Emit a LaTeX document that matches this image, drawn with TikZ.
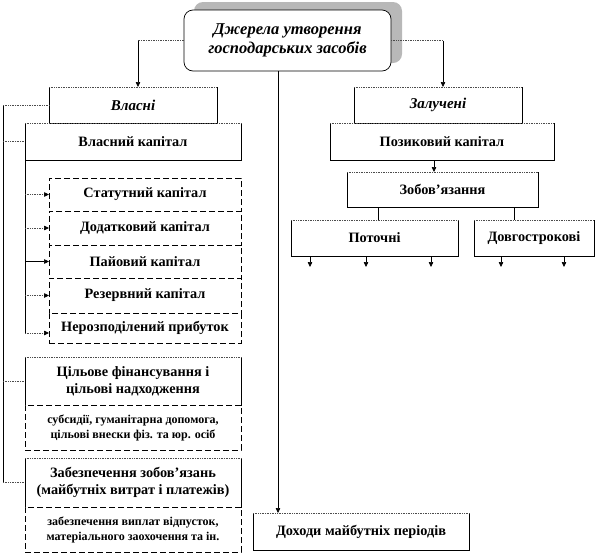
\documentclass[tikz,border=0pt]{standalone}
\usepackage{fontspec}
\setmainfont{Liberation Serif}
\usetikzlibrary{arrows.meta}
\begin{document}
\begin{tikzpicture}[x=1pt,y=-1pt,
  every node/.style={inner sep=0pt, outer sep=0pt},
  boxa/.style={anchor=north west, fill=white, align=center, font=\fontsize{14.3}{17}\selectfont\bfseries},
  boxi/.style={boxa, font=\fontsize{15}{17}\selectfont\bfseries\itshape},
  boxd/.style={anchor=north west, fill=white, draw=black, dash pattern=on 6pt off 3pt, line width=0.6pt, align=center, font=\fontsize{14.3}{17}\selectfont\bfseries},
  boxs/.style={boxd, font=\fontsize{12}{15}\selectfont\bfseries},
  edge/.style={draw=black, line width=0.7pt},
  topedge/.style={draw=black!70, densely dotted, line width=0.7pt},
  dotline/.style={draw=black!70, densely dotted, line width=0.7pt},
  solid line/.style={draw=black, line width=0.6pt},
  arr/.style={draw=black, line width=0.6pt, -{Triangle[length=5pt,width=4.5pt]}},
  darr/.style={draw=black!70, densely dotted, line width=0.7pt, -{Triangle[length=5pt,width=4.5pt,color=black]}},
  shadowbox/.style={fill=black!28, rounded corners=9pt},
  topbox/.style={anchor=north west, fill=white, draw=black, line width=0.7pt, rounded corners=9pt, align=center, font=\fontsize{16.5}{19.5}\selectfont\bfseries\itshape}
]
\useasboundingbox (0,0) rectangle (597,555);

% top node with shadow
\fill[shadowbox] (194,2) rectangle (402,63);
\node[topbox, minimum width=207pt, minimum height=61pt] (top) at (184,10) {Джерела утворення\\господарських засобів};

% boxes
\node[boxi, minimum width=168pt, minimum height=36pt] (vl) at (49,87) {Власні};
\node[boxi, minimum width=168pt, minimum height=36pt] (zl) at (354,87) {Залучені};
\node[boxa, minimum width=216pt, minimum height=37pt] (vk) at (25,123) {Власний капітал};
\node[boxa, minimum width=224pt, minimum height=37pt] (pk) at (330,123) {Позиковий капітал};
\node[boxa, minimum width=191pt, minimum height=35pt] (zo) at (347,172) {Зобов’язання};
\node[boxa, minimum width=167pt, minimum height=36pt] (pt) at (291,220) {Поточні};
\node[boxa, minimum width=120pt, minimum height=36pt] (dv) at (474,220) {Довгострокові};
\node[boxa, minimum width=216pt, minimum height=37pt] (dk) at (253,513) {Доходи майбутніх періодів};
\node[boxa, minimum width=216pt, minimum height=48pt] (cf) at (25,357) {Цільове фінансування і\\цільові надходження};
\node[boxa, minimum width=216pt, minimum height=49pt] (zb) at (25,458) {Забезпечення зобов’язань\\(майбутніх витрат і платежів)};

\foreach \n in {vl,zl,vk,pk,zo,pt,dv,dk,cf,zb} {
  \draw[edge] (\n.north west) -- (\n.south west) -- (\n.south east) -- (\n.north east);
  \draw[topedge] (\n.north west) -- (\n.north east);
}

% dashed boxes
\node[boxd, minimum width=192pt, minimum height=33pt] (r1) at (49,178) {Статутний капітал};
\node[boxd, minimum width=192pt, minimum height=34pt] (r2) at (49,211) {Додатковий капітал};
\node[boxd, minimum width=192pt, minimum height=33pt] (r3) at (49,245) {Пайовий капітал};
\node[boxd, minimum width=192pt, minimum height=35pt] (r4) at (49,278) {Резервний капітал};
\node[boxd, minimum width=192pt, minimum height=30pt] (r5) at (49,313) {Нерозподілений прибуток};
\node[boxs, minimum width=216pt, minimum height=45pt] (cs) at (25,405) {субсидії, гуманітарна допомога,\\цільові внески фіз. та юр. осіб};
\node[boxs, minimum width=216pt, minimum height=45pt] (zs) at (25,507) {забезпечення виплат відпусток,\\матеріального заохочення та ін.};

% coordinates
\coordinate (lc) at (138,0);
\coordinate (rc) at (443,0);
\coordinate (cx) at (278,0);
\coordinate (ox) at (3,0);
\coordinate (ix) at (25,0);
\coordinate (pz) at (434,0);
\coordinate (z1) at (378,0);
\coordinate (z2) at (514,0);
\coordinate (s1) at (310,267);
\coordinate (s2) at (366,267);
\coordinate (s3) at (431,267);
\coordinate (s4) at (501,267);
\coordinate (s5) at (564,267);

% top connectors
\draw[dotline] (top.west) -- (top.west -| lc);
\draw[arr] (top.west -| lc) -- (vl.north -| lc);
\draw[dotline] (top.east) -- (top.east -| rc);
\draw[arr] (top.east -| rc) -- (zl.north -| rc);
\draw[arr] (top.south -| cx) -- (dk.north -| cx);

% left bracket
\draw[solid line] (vl.west -| ox) -- (zb.west -| ox);
\draw[dotline] (vl.west -| ox) -- (vl.west);
\draw[dotline] (vk.west -| ox) -- (vk.west);
\draw[dotline] (cf.west -| ox) -- (cf.west);
\draw[dotline] (zb.west -| ox) -- (zb.west);

% inner bracket
\coordinate (r5a) at (25,333);
\draw[solid line] (vk.south -| ix) -- (r5a);
\draw[darr] (r1.west -| ix) -- (r1.west);
\draw[darr] (r2.west -| ix) -- (r2.west);
\draw[arr] (r3.west -| ix) -- (r3.west);
\draw[darr] (r4.west -| ix) -- (r4.west);
\draw[darr] (r5a) -- (r5a -| r5.west);

% right side
\draw[arr] (pk.south -| pz) -- (zo.north -| pz);
\draw[solid line] (zo.south -| z1) -- (pt.north -| z1);
\draw[solid line] (zo.south -| z2) -- (dv.north -| z2);
\draw[arr] (pt.south -| s1) -- (s1);
\draw[arr] (pt.south -| s2) -- (s2);
\draw[arr] (pt.south -| s3) -- (s3);
\draw[arr] (dv.south -| s4) -- (s4);
\draw[arr] (dv.south -| s5) -- (s5);
\end{tikzpicture}
\end{document}
